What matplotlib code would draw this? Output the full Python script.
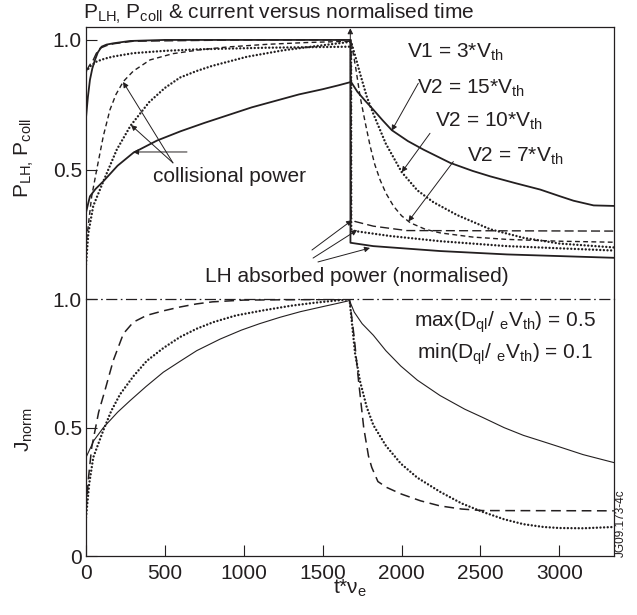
import matplotlib
matplotlib.use('Agg')
import matplotlib.pyplot as plt

plt.rcParams.update({
    'font.family': ['Liberation Sans', 'DejaVu Sans'],
    'mathtext.fontset': 'custom',
    'mathtext.rm': 'Liberation Sans',
    'mathtext.it': 'Liberation Sans:italic',
    'mathtext.default': 'regular',
    'lines.scale_dashes': False,
})
INK = '#231f20'

# ---------------- data ----------------
# upper panel: LH absorbed power (normalised)
t_lh_solid = [0, 12, 25, 40, 57, 75, 99, 130, 173, 279, 500, 1000, 1500, 1675,
              1676, 1821, 2245, 2668, 3345]
p_lh_solid = [0.70, 0.78, 0.846, 0.89, 0.923, 0.952, 0.974, 0.982, 0.987, 0.996, 1.0, 1.0, 1.0, 1.0,
              0.218, 0.205, 0.186, 0.173, 0.16]

t_lh_dash = [0, 20, 46, 65, 89, 130, 173, 300, 1000, 1680, 1681, 1705, 1821, 2033, 3345]
p_lh_dash = [0.878, 0.90, 0.923, 0.948, 0.968, 0.978, 0.985, 0.995, 1.0, 1.0, 0.314, 0.30, 0.282, 0.265, 0.263]

t_lh_dot = [0, 30, 68, 120, 173, 300, 500, 723, 1146, 1680, 1681, 1705, 1928, 2245, 2668, 3345]
p_lh_dot = [0.878, 0.90, 0.917, 0.928, 0.936, 0.949, 0.958, 0.964, 0.970, 0.974,
            0.27, 0.263, 0.244, 0.224, 0.205, 0.188]

# upper panel: collisional power
t_col_v15 = [0, 25, 60, 110, 200, 300, 450, 600, 750, 900, 1050, 1200, 1350, 1500, 1600, 1680,
             1720, 1770, 1821, 1880, 1938, 2040, 2139, 2308, 2450, 2562, 2720, 2879, 3000, 3090, 3217, 3345]
p_col_v15 = [0.335, 0.397, 0.425, 0.455, 0.515, 0.565, 0.612, 0.648, 0.68, 0.71, 0.74, 0.765, 0.79, 0.81,
             0.825, 0.838,
             0.80, 0.765, 0.731, 0.69, 0.652, 0.61, 0.577, 0.526, 0.495, 0.474, 0.448, 0.423, 0.398,
             0.38, 0.362, 0.36]

t_col_v10 = [0, 15, 46, 110, 195, 283, 400, 500, 596, 700, 800, 1019, 1250, 1441, 1680,
             1710, 1737, 1780, 1821, 1900, 2001, 2100, 2200, 2351, 2562, 2773, 3000, 3345]
p_col_v10 = [0.135, 0.256, 0.36, 0.455, 0.577, 0.67, 0.76, 0.815, 0.855, 0.88, 0.90, 0.935, 0.96, 0.975,
             0.993,
             0.93, 0.87, 0.78, 0.715, 0.60, 0.49, 0.42, 0.375, 0.325, 0.27, 0.237, 0.215, 0.20]

t_col_v7 = [0, 4, 36, 68, 110, 152, 190, 237, 300, 406, 550, 723, 900, 1146, 1400, 1680,
            1710, 1737, 1770, 1801, 1830, 1864, 1900, 1949, 2000, 2055, 2150, 2245, 2450, 2668, 3000, 3345]
p_col_v7 = [0.20, 0.23, 0.397, 0.5, 0.63, 0.731, 0.79, 0.84, 0.88, 0.923, 0.947, 0.962, 0.973, 0.983,
            0.99, 0.995,
            0.89, 0.782, 0.68, 0.59, 0.52, 0.46, 0.41, 0.359, 0.322, 0.295, 0.27, 0.256, 0.24, 0.231,
            0.224, 0.22]

# lower panel: normalised current
t_j_solid = [0, 50, 110, 200, 279, 380, 490, 600, 702, 850, 985, 1100, 1230, 1360, 1490, 1600, 1670,
             1700, 1750, 1821, 1900, 1995, 2100, 2244, 2400, 2513, 2650, 2772, 2900, 3001, 3150, 3345]
j_solid = [0.384, 0.45, 0.50, 0.56, 0.605, 0.66, 0.716, 0.76, 0.80, 0.845, 0.88, 0.905, 0.93, 0.952,
           0.97, 0.985, 0.995,
           0.95, 0.905, 0.86, 0.80, 0.74, 0.685, 0.625, 0.572, 0.54, 0.50, 0.47, 0.445, 0.425, 0.395, 0.364]

t_j_dot = [0, 20, 46, 110, 160, 216, 300, 385, 490, 596, 700, 807, 950, 1124, 1300, 1441, 1580, 1670,
           1690, 1705, 1737, 1779, 1821, 1900, 1995, 2100, 2244, 2380, 2513, 2650, 2772, 2900, 3001,
           3150, 3345]
j_dot = [0.15, 0.28, 0.384, 0.49, 0.565, 0.63, 0.70, 0.76, 0.81, 0.853, 0.885, 0.911, 0.937, 0.957,
         0.975, 0.986, 0.995, 1.0,
         0.88, 0.79, 0.68, 0.58, 0.51, 0.43, 0.36, 0.305, 0.25, 0.205, 0.172, 0.143, 0.124, 0.113,
         0.109, 0.108, 0.113]

t_j_dash = [0, 15, 36, 80, 120, 173, 237, 300, 385, 490, 596, 700, 800, 1000, 1670,
            1690, 1700, 1727, 1760, 1790, 1811, 1850, 1906, 2000, 2120, 2244, 2380, 2513, 3345]
j_dash = [0.18, 0.30, 0.423, 0.56, 0.645, 0.762, 0.866, 0.911, 0.9375, 0.955, 0.97, 0.982, 0.99, 0.997,
          1.0,
          0.90, 0.85, 0.684, 0.5, 0.39, 0.345, 0.29, 0.267, 0.241, 0.215, 0.195, 0.183, 0.177, 0.176]

xticks = [0, 500, 1000, 1500, 2000, 2500, 3000]
top_yticks = [0.5, 1.0]
top_yticklabels = ['0.5', '1.0']
bot_yticks = [0, 0.5, 1.0]
bot_yticklabels = ['0', '0.5', '1.0']

# ---------------- figure ----------------
W, H = 637, 615
fig = plt.figure(figsize=(W / 100, H / 100), dpi=100)


def fx(px):
    return px / W


def fy(py):
    return 1 - py / H


L, R = 86, 613.5
ax1 = fig.add_axes([fx(L), fy(299.3), fx(R) - fx(L), fy(26.7) - fy(299.3)])
ax2 = fig.add_axes([fx(L), fy(556), fx(R) - fx(L), fy(299.3) - fy(556)])

XMAX = 3343
for ax in (ax1, ax2):
    ax.set_xlim(0, XMAX)
    for s in ax.spines.values():
        s.set_color(INK)
        s.set_linewidth(0.9)
    ax.tick_params(direction='in', length=8, width=0.8, colors=INK, labelsize=15)
    ax.tick_params(axis='y', pad=3)
    ax.tick_params(axis='x', pad=6)

ax1.set_ylim(0, 1.051)
ax1.spines['bottom'].set_visible(False)
ax1.set_xticks([])
ax1.set_yticks(top_yticks)
ax1.set_yticklabels(top_yticklabels)

ax2.set_ylim(0, 1.0)
ax2.spines['top'].set_visible(False)
ax2.set_xticks(xticks)
ax2.set_xticklabels([str(v) for v in xticks])
ax2.set_yticks(bot_yticks)
ax2.set_yticklabels(bot_yticklabels)

DOT = dict(dashes=(0.01, 2.6), lw=1.75, color=INK, dash_capstyle='round')
# upper curves
ax1.plot(t_lh_solid, p_lh_solid, color=INK, lw=1.3)
ax1.plot(t_lh_dash, p_lh_dash, color=INK, lw=1.0, dashes=(6.5, 3))
ax1.plot(t_lh_dot, p_lh_dot, **DOT)
ax1.plot(t_col_v15, p_col_v15, color=INK, lw=1.3)
ax1.plot(t_col_v10, p_col_v10, **DOT)
ax1.plot(t_col_v7, p_col_v7, color=INK, lw=1.0, dashes=(3.5, 2.4))

# lower curves
ax2.axhline(1.0, color=INK, lw=0.9, dashes=(8, 2.5, 1.2, 2.5), clip_on=False)
ax2.plot(t_j_solid, j_solid, color=INK, lw=0.8)
ax2.plot(t_j_dot, j_dot, **DOT)
ax2.plot(t_j_dash, j_dash, color=INK, lw=1.1, dashes=(7, 4))

AP = dict(arrowstyle='-|>', color=INK, lw=0.7, shrinkA=0, shrinkB=0, mutation_scale=8)

# collisional power annotation
ax1.text(425, 0.452, 'collisional power', fontsize=15, color=INK, ha='left', va='baseline')
ax1.annotate('', xy=(235, 0.838), xytext=(551, 0.526), arrowprops=AP)
ax1.annotate('', xy=(285, 0.672), xytext=(551, 0.526), arrowprops=AP)
ax1.annotate('', xy=(298, 0.568), xytext=(640, 0.568), arrowprops=AP)

# velocity labels
ax1.text(2035, 0.93, 'V1 = 3*V$_{th}$', fontsize=15, color=INK, ha='left', va='baseline')
ax1.text(2098, 0.794, 'V2 = 15*V$_{th}$', fontsize=15, color=INK, ha='left', va='baseline')
ax1.text(2212, 0.666, 'V2 = 10*V$_{th}$', fontsize=15, color=INK, ha='left', va='baseline')
ax1.text(2415, 0.531, 'V2 = 7*V$_{th}$', fontsize=15, color=INK, ha='left', va='baseline')
ax1.annotate('', xy=(1937, 0.650), xytext=(2106, 0.833), arrowprops=AP)
ax1.annotate('', xy=(2001, 0.49), xytext=(2180, 0.640), arrowprops=AP)
ax1.annotate('', xy=(2043, 0.30), xytext=(2328, 0.531), arrowprops=AP)

# LH absorbed power annotation
ax1.text(754, 0.065, 'LH absorbed power (normalised)', fontsize=15, color=INK,
         ha='left', va='baseline')
ax1.annotate('', xy=(1686, 0.305), xytext=(1432, 0.19), arrowprops=AP)
ax1.annotate('', xy=(1718, 0.267), xytext=(1439, 0.159), arrowprops=AP)
ax1.annotate('', xy=(1800, 0.198), xytext=(1470, 0.144), arrowprops=AP)
# switch-off marker
ax1.annotate('', xy=(1675, 1.045), xytext=(1675, 1.0), arrowprops=AP, annotation_clip=False)

# lower panel texts
ax2.text(2656, 0.893, 'max(D$_{ql}$/ $_{e}$V$_{th}$) = 0.5', fontsize=15, color=INK,
         ha='center', va='baseline')
ax2.text(2656, 0.77, 'min(D$_{ql}$/ $_{e}$V$_{th}$) = 0.1', fontsize=15, color=INK,
         ha='center', va='baseline')

# axis labels & title
fig.text(fx(24), fy(158), r'$P_{LH,}\,P_{coll}$', rotation=90, fontsize=15, color=INK,
         ha='center', va='center')
fig.text(fx(24), fy(430), 'J$_{norm}$', rotation=90, fontsize=15, color=INK,
         ha='center', va='center')
fig.text(fx(349.7), fy(594), 't*ν$_{e}$', fontsize=15, color=INK, ha='center', va='baseline')
fig.text(fx(83), fy(18.5), r'$P_{LH,}\,P_{coll}$ & current versus normalised time', fontsize=15,
         color=INK, ha='left', va='baseline')
fig.text(fx(621), fy(523), 'JG09.173-4c', rotation=90, fontsize=8.5, color=INK,
         ha='center', va='center')

fig.savefig('out.png', dpi=100)
